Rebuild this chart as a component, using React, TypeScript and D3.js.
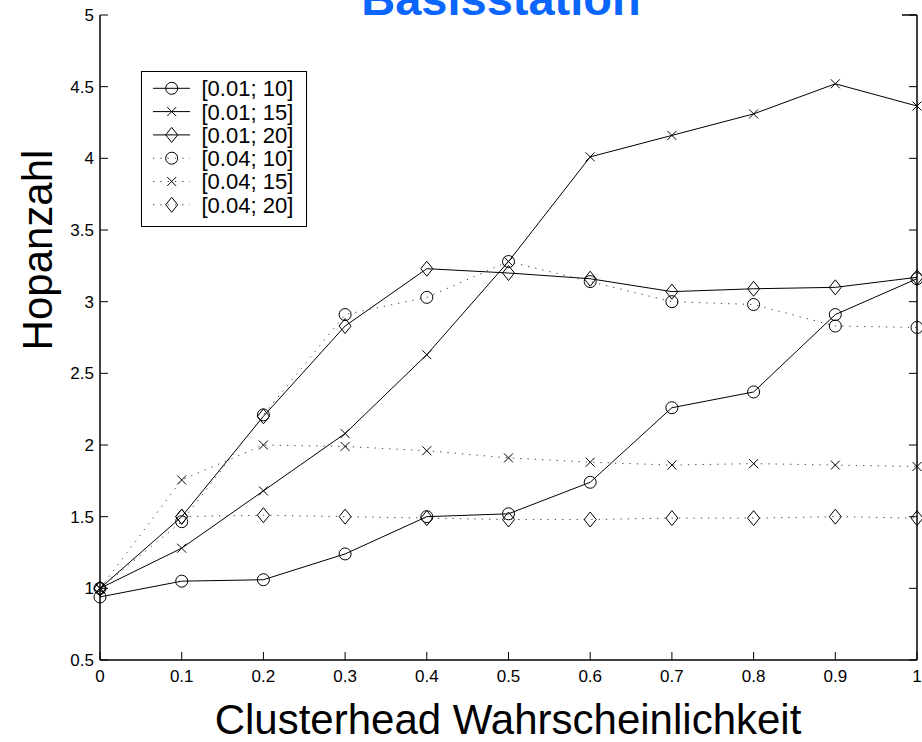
import React from "react";
import * as d3 from "d3";

const xValues = [0, 0.1, 0.2, 0.3, 0.4, 0.5, 0.6, 0.7, 0.8, 0.9, 1.0];
const s01_10 = [0.94, 1.05, 1.06, 1.24, 1.5, 1.52, 1.74, 2.26, 2.37, 2.91, 3.16];
const s01_15 = [1.0, 1.28, 1.68, 2.08, 2.63, 3.28, 4.01, 4.16, 4.31, 4.52, 4.365];
const s01_20 = [1.0, 1.5, 2.2, 2.83, 3.23, 3.2, 3.16, 3.07, 3.09, 3.1, 3.17];
const s04_10 = [1.0, 1.465, 2.21, 2.91, 3.03, 3.28, 3.14, 3.0, 2.98, 2.83, 2.82];
const s04_15 = [1.0, 1.756, 2.0, 1.99, 1.96, 1.91, 1.88, 1.86, 1.87, 1.86, 1.85];
const s04_20 = [1.0, 1.5, 1.51, 1.5, 1.49, 1.48, 1.48, 1.49, 1.49, 1.5, 1.49];

const seriesNames = ["[0.01; 10]", "[0.01; 15]", "[0.01; 20]", "[0.04; 10]", "[0.04; 15]", "[0.04; 20]"];
const seriesValues = [s01_10, s01_15, s01_20, s04_10, s04_15, s04_20];
const seriesMarkers = ["circle", "x", "diamond", "circle", "x", "diamond"];
const seriesDotted = [false, false, false, true, true, true];

const xTicks = [0, 0.1, 0.2, 0.3, 0.4, 0.5, 0.6, 0.7, 0.8, 0.9, 1];
const xTickLabels = ["0", "0.1", "0.2", "0.3", "0.4", "0.5", "0.6", "0.7", "0.8", "0.9", "1"];
const yTicks = [0.5, 1, 1.5, 2, 2.5, 3, 3.5, 4, 4.5, 5];
const yTickLabels = ["0.5", "1", "1.5", "2", "2.5", "3", "3.5", "4", "4.5", "5"];

const title = "Basisstation";
const xLabel = "Clusterhead Wahrscheinlichkeit";
const yLabel = "Hopanzahl";

const FONT = "Arial, 'Liberation Sans', Helvetica, sans-serif";

function Marker({ type, x, y }: { type: string; x: number; y: number }) {
  if (type === "circle") {
    return <circle cx={x} cy={y} r={6} fill="none" stroke="#000" strokeWidth={1} />;
  }
  if (type === "x") {
    const s = 4.5;
    return (
      <path
        d={`M${x - s},${y - s}L${x + s},${y + s}M${x - s},${y + s}L${x + s},${y - s}`}
        stroke="#000"
        strokeWidth={1}
        fill="none"
      />
    );
  }
  const w = 6, h = 7.5;
  return (
    <path
      d={`M${x},${y - h}L${x + w},${y}L${x},${y + h}L${x - w},${y}Z`}
      fill="none"
      stroke="#000"
      strokeWidth={1}
    />
  );
}

export default function App() {
  const W = 922, H = 742;
  const x = d3.scaleLinear().domain([0, 1]).range([100, 917]);
  const y = d3.scaleLinear().domain([0.5, 5]).range([660, 15]);
  const line = d3
    .line<number>()
    .x((_, i) => x(xValues[i]))
    .y((d) => y(d));

  const left = x(0), right = x(1), top = y(5), bottom = y(0.5);
  const tickLen = 8;

  const legX = 141.5, legY = 71.5, legW = 165, legH = 155, rowH = 23.3;

  return (
    <svg width={W} height={H} style={{ position: "absolute", left: 0, top: 0, background: "#fff" }} fontFamily={FONT}>
      <rect x={0} y={0} width={W} height={H} fill="#fff" />
      {/* series */}
      {seriesValues.map((vals, si) => (
        <g key={si}>
          <path
            d={line(vals) || ""}
            fill="none"
            stroke={seriesDotted[si] ? "#444" : "#000"}
            strokeWidth={1}
            strokeDasharray={seriesDotted[si] ? "1.3 6" : undefined}
          />
          {vals.map((v, i) => (
            <Marker key={i} type={seriesMarkers[si]} x={x(xValues[i])} y={y(v)} />
          ))}
        </g>
      ))}
      {/* axes frame */}
      <line x1={left} y1={top} x2={left} y2={bottom} stroke="#000" strokeWidth={1.5} />
      <line x1={right} y1={top} x2={right} y2={bottom} stroke="#000" strokeWidth={1.5} />
      <line x1={left} y1={bottom} x2={right} y2={bottom} stroke="#000" strokeWidth={1.5} />
      <line x1={902} y1={top} x2={right} y2={top} stroke="#000" strokeWidth={1.5} />
      {/* y ticks */}
      {yTicks.map((t, i) => (
        <g key={"y" + i}>
          <line x1={left} y1={y(t)} x2={left + tickLen} y2={y(t)} stroke="#000" strokeWidth={1} />
          <line x1={right} y1={y(t)} x2={right - tickLen} y2={y(t)} stroke="#000" strokeWidth={1} />
          <text x={left - 6} y={y(t)} dy="0.36em" textAnchor="end" fontSize={17} fill="#000">
            {yTickLabels[i]}
          </text>
        </g>
      ))}
      {/* x ticks */}
      {xTicks.map((t, i) => (
        <g key={"x" + i}>
          <line x1={x(t)} y1={bottom} x2={x(t)} y2={bottom - tickLen} stroke="#000" strokeWidth={1} />
          <text x={x(t)} y={bottom + 22} textAnchor="middle" fontSize={17} fill="#000">
            {xTickLabels[i]}
          </text>
        </g>
      ))}
      {/* legend */}
      <rect x={legX} y={legY} width={legW} height={legH} fill="#fff" stroke="#000" strokeWidth={1} />
      {seriesNames.map((name, i) => {
        const ry = legY + 16.8 + i * rowH;
        return (
          <g key={"l" + i}>
            <line
              x1={153}
              y1={ry}
              x2={190}
              y2={ry}
              stroke={seriesDotted[i] ? "#444" : "#000"}
              strokeWidth={1}
              strokeDasharray={seriesDotted[i] ? "1.3 6" : undefined}
            />
            <Marker type={seriesMarkers[i]} x={171.7} y={ry} />
            <text x={201.5} y={ry} dy="0.36em" fontSize={22} fill="#000">
              {name}
            </text>
          </g>
        );
      })}
      {/* title & labels */}
      <text x={501} y={15} textAnchor="middle" fontSize={47} fontWeight="bold" fill="#0a66ff">
        {title}
      </text>
      <text x={508} y={734} textAnchor="middle" fontSize={42} fill="#000">
        {xLabel}
      </text>
      <text
        transform={`translate(52,250) rotate(-90)`}
        textAnchor="middle"
        fontSize={42}
        fill="#000"
      >
        {yLabel}
      </text>
    </svg>
  );
}
